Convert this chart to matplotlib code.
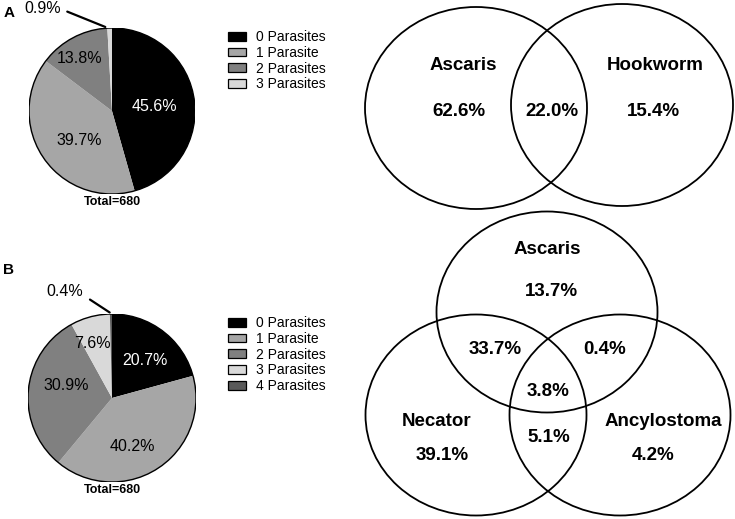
import matplotlib
matplotlib.use("Agg")
import matplotlib.pyplot as plt
from matplotlib.patches import Ellipse, Patch, Circle
import numpy as np

plt.rcParams['font.family'] = ['Liberation Sans', 'DejaVu Sans']

# ---------------- data ----------------
pie_a_labels = ['0 Parasites', '1 Parasite', '2 Parasites', '3 Parasites']
pie_a_values = [45.6, 39.7, 13.8, 0.9]
pie_b_labels = ['0 Parasites', '1 Parasite', '2 Parasites', '3 Parasites', '4 Parasites']
pie_b_values = [20.7, 40.2, 30.9, 7.6, 0.4]
pie_total = 680

venn_a_sets = ['Ascaris', 'Hookworm']
venn_a_values = [62.6, 22.0, 15.4]          # Ascaris only, both, Hookworm only
venn_b_sets = ['Ascaris', 'Necator', 'Ancylostoma']
# Ascaris only, Asc+Nec, Asc+Anc, all three, Necator only, Nec+Anc, Ancylostoma only
venn_b_values = [13.7, 33.7, 0.4, 3.8, 39.1, 5.1, 4.2]

# ---------------- style ----------------
colors = ['#000000', '#a6a6a6', '#808080', '#d9d9d9', '#5a5a5a']
W, H = 735, 519
fig = plt.figure(figsize=(W / 100, H / 100), dpi=100)

# background axes in pixel coordinates for the Venn diagrams
bg = fig.add_axes([0, 0, 1, 1])
bg.set_xlim(0, W)
bg.set_ylim(H, 0)
bg.axis('off')

fig.text(9 / W, 1 - 13 / H, 'A', fontsize=11, fontweight='bold', ha='center', va='center')
fig.text(9 / W, 1 - 270 / H, 'B', fontsize=11, fontweight='bold', ha='center', va='center')


def draw_pie(cx, cy, r, values, labels, label_pos, small_label, legend_top):
    ax = fig.add_axes([(cx - r) / W, (H - cy - r) / H, 2 * r / W, 2 * r / H])
    wedges, _ = ax.pie(values, colors=colors[:len(values)], startangle=90,
                       counterclock=False, radius=1.0,
                       wedgeprops=dict(linewidth=0))
    ax.add_patch(Circle((0, 0), 1.0, fill=False, edgecolor='black', lw=1.0))
    ax.set_xlim(-1, 1)
    ax.set_ylim(-1, 1)
    ax.set_aspect('equal')
    ax.axis('off')
    for i, (v, pos) in enumerate(zip(values, label_pos)):
        if pos is None:
            continue
        ax.text(pos[0], pos[1], f'{v:.1f}%', fontsize=11.5, ha='center', va='center',
                color='white' if i == 0 else 'black')
    # small slice label with leader line
    idx, tpos, lstart, lend = small_label
    ax.text(tpos[0], tpos[1], f'{values[idx]:.1f}%', fontsize=11.5, ha='center',
            va='center', clip_on=False)
    ax.annotate('', xy=lend, xytext=lstart,
                arrowprops=dict(arrowstyle='-', color='black', lw=1.6), annotation_clip=False)
    ax.text(0, -1.1, f'Total={pie_total}', fontsize=9, fontweight='bold',
            ha='center', va='center', clip_on=False)
    handles = [Patch(facecolor=colors[i], edgecolor='black', linewidth=0.9)
               for i in range(len(values))]
    fig.legend(handles, labels, loc='upper left',
               bbox_to_anchor=(228 / W, 1 - legend_top / H), bbox_transform=fig.transFigure,
               frameon=False, fontsize=10, handlelength=1.3, handleheight=0.6,
               handletextpad=0.7, labelspacing=0.13, borderpad=0, borderaxespad=0)


draw_pie(112, 111, 83, pie_a_values, pie_a_labels,
         [(0.51, 0.06), (-0.39, -0.35), (-0.39, 0.63), None],
         (3, (-0.84, 1.24), (-0.57, 1.21), (-0.05, 1.0)), 30)

draw_pie(112, 398, 84, pie_b_values, pie_b_labels,
         [(0.39, 0.45), (0.24, -0.58), (-0.54, 0.15), (-0.23, 0.65), None],
         (4, (-0.56, 1.27), (-0.29, 1.19), (0.0, 1.0)), 316)

# ---------------- Venn A ----------------
vfs = 13.5
for (cx, cy) in [(476, 108), (622, 105)]:
    bg.add_patch(Ellipse((cx, cy), 222, 202, fill=False, edgecolor='black', lw=1.3))
bg.text(463, 65, venn_a_sets[0], fontsize=vfs, fontweight='bold', ha='center', va='center')
bg.text(655, 65, venn_a_sets[1], fontsize=vfs, fontweight='bold', ha='center', va='center')
for (x, y), v in zip([(459, 112), (552, 112), (653, 112)], venn_a_values):
    bg.text(x, y, f'{v:.1f}%', fontsize=vfs, fontweight='bold', ha='center', va='center')

# ---------------- Venn B ----------------
for (cx, cy) in [(547, 312), (476, 415), (620, 415)]:
    bg.add_patch(Ellipse((cx, cy), 221, 201, fill=False, edgecolor='black', lw=1.3))
bg.text(547, 250, venn_b_sets[0], fontsize=vfs, fontweight='bold', ha='center', va='center')
bg.text(437, 422, venn_b_sets[1], fontsize=vfs, fontweight='bold', ha='center', va='center')
bg.text(663, 422, venn_b_sets[2], fontsize=vfs, fontweight='bold', ha='center', va='center')
vb_pos = [(551, 292), (495, 350), (605, 350), (548, 391), (442, 455), (549, 438), (653, 455)]
for (x, y), v in zip(vb_pos, venn_b_values):
    bg.text(x, y, f'{v:.1f}%', fontsize=vfs, fontweight='bold', ha='center', va='center')

fig.savefig('out.png', dpi=100)
